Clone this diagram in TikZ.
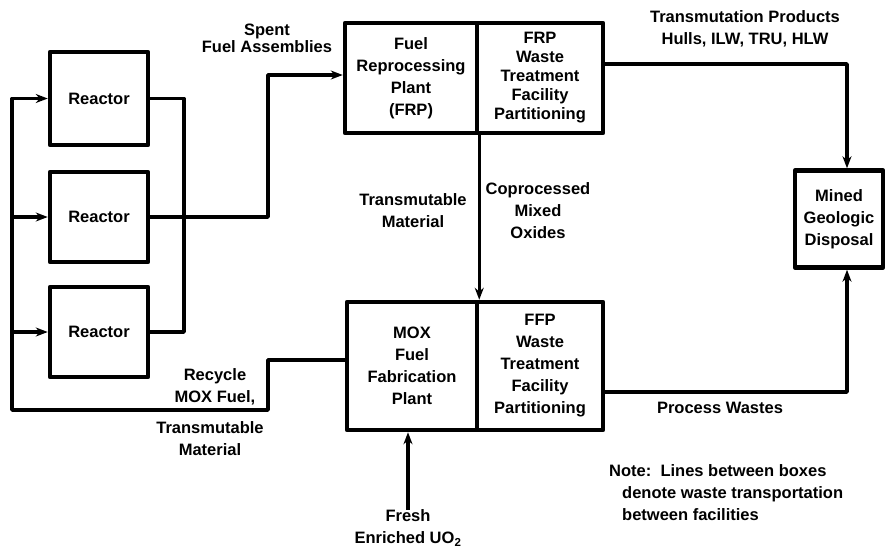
\documentclass[tikz,border=0pt]{standalone}
\usepackage{fontspec}
\setmainfont{Liberation Sans}
\usetikzlibrary{arrows.meta, positioning, calc}

\begin{document}
\begin{tikzpicture}[x=1pt, y=-1pt,
  box/.style={rectangle, draw, line width=4.5pt, line join=round, inner sep=0pt, align=center, font=\fontsize{16.5}{22}\selectfont\bfseries},
  lbl/.style={align=center, inner sep=0pt, font=\fontsize{16.5}{22}\selectfont\bfseries},
  link/.style={line width=3.5pt, line join=round},
  arrow/.style={link, -{Stealth[length=12pt, width=9pt]}}
]
\useasboundingbox (0,0) rectangle (887,552);

% reactors
\node[box, minimum width=98, minimum height=93] (r1) at (99,98.5) {Reactor};
\node[box, minimum width=98, minimum height=90] (r2) at (99,217) {Reactor};
\node[box, minimum width=98, minimum height=90] (r3) at (99,332) {Reactor};

% plants
\node[box, minimum width=132, minimum height=110] (frp) at (411,78) {Fuel\\Reprocessing\\Plant\\(FRP)};
\node[box, minimum width=126, minimum height=110, font=\fontsize{16.5}{19}\selectfont\bfseries] (frpw) at (540,78) {FRP\\Waste\\Treatment\\Facility\\Partitioning};
\node[box, minimum width=130, minimum height=128] (mox) at (412,366) {MOX\\Fuel\\Fabrication\\Plant};
\node[box, minimum width=126, minimum height=128] (ffp) at (540,366) {FFP\\Waste\\Treatment\\Facility\\Partitioning};
\node[box, minimum width=88, minimum height=97] (disp) at (839,219) {Mined\\Geologic\\Disposal};

\coordinate (bus) at (12,410);
\coordinate (rbus) at (184,0);
\coordinate (spent) at (268,75);

% reactor loop
\draw[arrow] ([yshift=6pt]mox.west) -| (268,410) -| (r1.west -| bus) -- (r1.west);
\draw[arrow] (r2.west -| bus) -- (r2.west);
\draw[arrow] (r3.west -| bus) -- (r3.west);
\draw[link] (r1.east) -| (r3.east -| rbus) -- (r3.east);
\draw[arrow] (r2.east) -| (spent) -- (frp.west |- spent);

% waste and recycle flows
\draw[arrow] (frp.south east) -- (mox.north east);
\draw[arrow] ([yshift=14pt]frpw.east) -| ([xshift=8pt]disp.north);
\draw[arrow] ([yshift=-26pt]ffp.east) -| ([xshift=8pt]disp.south);

\node[lbl] (fresh) at (408,528) {Fresh\\Enriched UO\textsubscript{2}};
\draw[arrow] (fresh.north) -- (fresh.north |- mox.south);

% labels
\node[lbl, font=\fontsize{16.5}{17}\selectfont\bfseries] (spentlbl) at (267,38) {Spent\\Fuel Assemblies};
\node[lbl] (prodlbl) at (745,29) {Transmutation Products\\Hulls, ILW, TRU, HLW};
\node[lbl] (translbl) at (413,211) {Transmutable\\Material};
\node[lbl] (coproclbl) at (538,211) {Coprocessed\\Mixed\\Oxides};
\node[lbl] (recyclbl) at (215,387) {Recycle\\MOX Fuel,};
\node[lbl] (matlbl) at (210,439) {Transmutable\\Material};
\node[lbl] (wastelbl) at (720,408) {Process Wastes};
\node[lbl, align=left, anchor=north west] (note) at (609,464) {Note:\ \ Lines between boxes\\\hspace*{13pt}denote waste transportation\\\hspace*{13pt}between facilities};
\end{tikzpicture}
\end{document}
